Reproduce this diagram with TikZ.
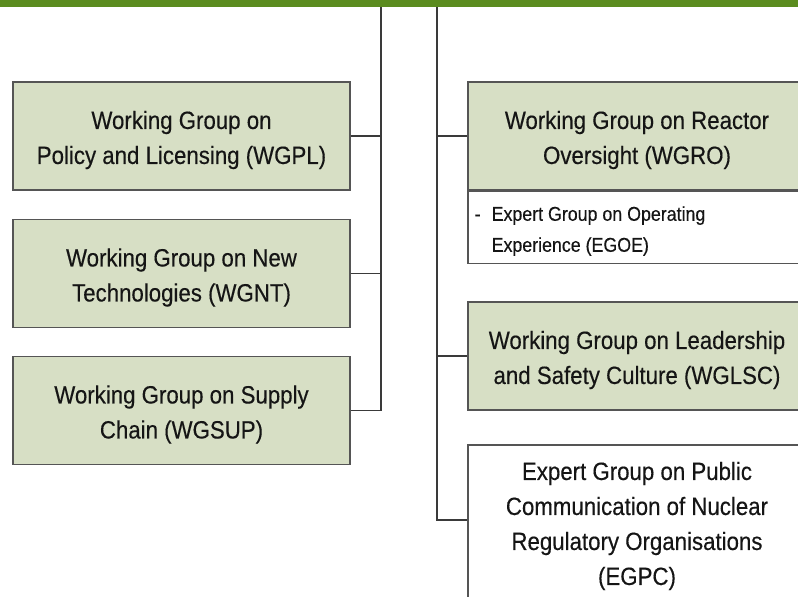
\documentclass[tikz,border=0pt]{standalone}
\usepackage{fontspec}
\newfontfamily\groupfont{Liberation Sans}[FakeStretch=0.89,FakeBold=0.3]
\definecolor{barGreen}{HTML}{5B8C1F}
\definecolor{sage}{HTML}{D7DFC5}
\definecolor{boxline}{HTML}{555555}
\definecolor{busline}{HTML}{3A3A3A}
\definecolor{ink}{HTML}{151515}
\tikzset{
  grp/.style={draw=boxline, fill=sage, line width=1.1pt, inner sep=0pt,
    minimum width=337pt, minimum height=108pt},
  subgrp/.style={grp, fill=white},
  grptext/.style={align=center, text=ink, inner sep=0pt,
    font=\groupfont\fontsize{25}{35}\selectfont},
  subtext/.style={align=left, text=ink, inner sep=0pt,
    font=\groupfont\fontsize{20}{31}\selectfont},
  bus/.style={draw=busline, line width=1.1pt},
}
\begin{document}
\begin{tikzpicture}[x=1pt,y=-1pt]
  \useasboundingbox (0,0) rectangle (798,597);
  % header band
  \fill[barGreen] (0,0) rectangle (798,7);
  \coordinate (busL) at (381,7);
  \coordinate (busR) at (437,7);

  % left column
  \node[grp] (wgpl)  at (181.5,136) {};
  \node[grp] (wgnt)  at (181.5,273.5) {};
  \node[grp] (wgsup) at (181.5,410.5) {};
  \node[grptext] (wgpl-t)  at ([yshift=-4pt]wgpl.center) {Working Group on\\Policy and Licensing (WGPL)};
  \node[grptext] (wgnt-t)  at ([yshift=-4pt]wgnt.center) {Working Group on New\\Technologies (WGNT)};
  \node[grptext] (wgsup-t) at ([yshift=-4pt]wgsup.center) {Working Group on Supply\\Chain (WGSUP)};

  % right column
  \node[grp, minimum width=338pt] (wgro) at (637,136) {};
  \node[grptext] (wgro-t) at ([yshift=-4pt]wgro.center) {Working Group on Reactor\\Oversight (WGRO)};
  \node[subgrp, minimum width=338pt, minimum height=72pt, anchor=north] (egoebox) at (wgro.south) {};
  \node[subtext, anchor=west] (egoe) at ([xshift=7pt,yshift=-4pt]egoebox.west)
        {\makebox[17pt][l]{-}Expert Group on Operating\\\hspace*{17pt}Experience (EGOE)};
  \node[grp, minimum width=338pt] (wglsc) at (637,356) {};
  \node[grptext] (wglsc-t) at ([yshift=-4pt]wglsc.center) {Working Group on Leadership\\and Safety Culture (WGLSC)};
  \node[subgrp, minimum width=338pt, minimum height=156pt] (egpc) at (637,523) {};
  \node[grptext] (egpc-t) at ([yshift=-3pt]egpc.center)
    {Expert Group on Public\\Communication of Nuclear\\Regulatory Organisations\\(EGPC)};

  % connectors
  \draw[bus] (busL) |- (wgsup.east);
  \draw[bus] (wgpl.east) -- (wgpl.east -| busL);
  \draw[bus] (wgnt.east) -- (wgnt.east -| busL);
  \draw[bus] (busR) |- ([yshift=3pt]egpc.west);
  \draw[bus] (wgro.west) -- (wgro.west -| busR);
  \draw[bus] (wglsc.west) -- (wglsc.west -| busR);
\end{tikzpicture}
\end{document}
